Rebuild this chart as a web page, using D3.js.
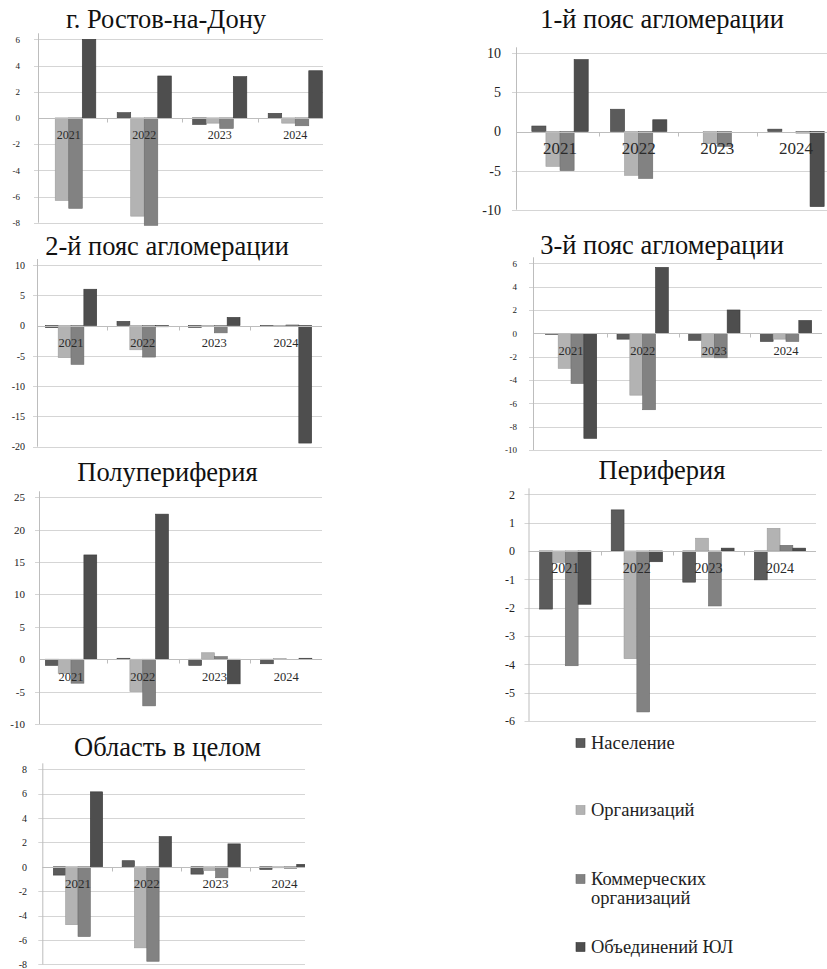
<!DOCTYPE html>
<html>
<head>
<meta charset="utf-8">
<script src="https://cdn.jsdelivr.net/npm/d3@7/dist/d3.min.js"></script>
<style>
  html, body { margin: 0; padding: 0; background: #fff; }
  svg, svg text { font-family: "Liberation Serif", "Times New Roman", Times, serif !important; }
</style>
</head>
<body>
<svg id="chart" width="827" height="969"></svg>
<script>
// ---- data ----
const years = ["2021", "2022", "2023", "2024"];
const seriesNames = ["Население", "Организаций", "Коммерческих организаций", "Объединений ЮЛ"];

// each panel: [Население, Организаций, Коммерческих, Объединений ЮЛ] by year
const rostovValues = [
  [0, 0.4, -0.5, 0.35],
  [-6.3, -7.5, -0.4, -0.4],
  [-6.9, -8.2, -0.8, -0.6],
  [6.0, 3.2, 3.15, 3.6]
];
const belt1Values = [
  [0.7, 2.85, 0, 0.3],
  [-4.45, -5.6, -1.55, 0],
  [-5.0, -6.0, -1.9, -0.2],
  [9.2, 1.5, 0, -9.6]
];
const belt2Values = [
  [-0.35, 0.7, -0.3, -0.1],
  [-5.3, -4.0, -0.1, -0.05],
  [-6.4, -5.2, -1.2, 0.1],
  [6.0, -0.2, 1.35, -19.4]
];
const belt3Values = [
  [-0.05, -0.5, -0.6, -0.7],
  [-3.0, -5.3, -2.05, -0.5],
  [-4.3, -6.55, -2.1, -0.7],
  [-9.0, 5.65, 2.0, 1.1]
];
const semiValues = [
  [-0.95, 0.15, -0.95, -0.7],
  [-2.2, -5.0, 1.0, 0.1],
  [-3.7, -7.2, 0.4, 0],
  [16.1, 22.4, -3.8, 0.15]
];
const periValues = [
  [-2.05, 1.45, -1.1, -1.02],
  [-0.4, -3.8, 0.45, 0.8],
  [-4.05, -5.68, -1.94, 0.2],
  [-1.88, -0.38, 0.1, 0.1]
];
const regionValues = [
  [-0.68, 0.5, -0.6, -0.22],
  [-4.75, -6.65, -0.3, -0.05],
  [-5.72, -7.75, -0.9, -0.12],
  [6.15, 2.48, 1.88, 0.2]
];

const rostovTicks = [6, 4, 2, 0, -2, -4, -6, -8];
const belt1Ticks = [10, 5, 0, -5, -10];
const belt2Ticks = [10, 5, 0, -5, -10, -15, -20];
const belt3Ticks = [6, 4, 2, 0, -2, -4, -6, -8, -10];
const semiTicks = [25, 20, 15, 10, 5, 0, -5, -10];
const periTicks = [2, 1, 0, -1, -2, -3, -4, -5, -6];
const regionTicks = [8, 6, 4, 2, 0, -2, -4, -6, -8];

// ---- styles ----
const serif = "'Liberation Serif', 'Times New Roman', Times, serif";
const fills = ["#5b5b5b", "#b3b3b3", "#828282", "#4e4e4e"];
const strokes = ["#3f3f3f", "#9c9c9c", "#6b6b6b", "#383838"];
const gridColor = "#d5d5d5";
const axisColor = "#bdbdbd";

// ---- panel layout ----
const panels = [
  { title: "г. Ростов-на-Дону", values: rostovValues, ticks: rostovTicks,
    tx: 166, ty: 28, x0: 31, x1: 333, axisX: 38, clipR: 323,
    yTop: 39.3, yBot: 222.7, labelR: 20, tickFont: 9, catFont: 12 },
  { title: "1-й пояс агломерации", values: belt1Values, ticks: belt1Ticks,
    tx: 662, ty: 28, x0: 520.7, x1: 835.3, axisX: 516, clipR: 827,
    yTop: 53.3, yBot: 209.7, labelR: 501, tickFont: 14, catFont: 17 },
  { title: "2-й пояс агломерации", values: belt2Values, ticks: belt2Ticks,
    tx: 167, ty: 255, x0: 35.2, x1: 321.8, axisX: 37, clipR: 322,
    yTop: 265, yBot: 446.7, labelR: 25, tickFont: 10, catFont: 12.5 },
  { title: "3-й пояс агломерации", values: belt3Values, ticks: belt3Ticks,
    tx: 662, ty: 254, x0: 535.2, x1: 821.8, axisX: 533, clipR: 822,
    yTop: 263.3, yBot: 450, labelR: 517, tickFont: 9, catFont: 12.5 },
  { title: "Полупериферия", values: semiValues, ticks: semiTicks,
    tx: 167.5, ty: 481, x0: 35.2, x1: 322, axisX: 39, clipR: 322,
    yTop: 497.3, yBot: 724, labelR: 25, tickFont: 11, catFont: 12.5 },
  { title: "Периферия", values: periValues, ticks: periTicks,
    tx: 662, ty: 479, x0: 529.5, x1: 815.8, axisX: 528.5, clipR: 816,
    yTop: 494.3, yBot: 721, labelR: 515, tickFont: 12, catFont: 14 },
  { title: "Область в целом", values: regionValues, ticks: regionTicks,
    tx: 167.5, ty: 756, x0: 43.6, x1: 318.8, axisX: 42.3, clipR: 305,
    yTop: 769.3, yBot: 964.3, labelR: 27, tickFont: 10, catFont: 13 }
];

const svg = d3.select("#chart");
svg.append("rect").attr("width", 827).attr("height", 969).attr("fill", "#fff");
const defs = svg.append("defs");

panels.forEach((p, pi) => {
  const g = svg.append("g").attr("font-family", serif);
  const max = d3.max(p.ticks), min = d3.min(p.ticks);
  const y = d3.scaleLinear().domain([max, min]).range([p.yTop, p.yBot]);
  const x = d3.scaleBand().domain(years).range([p.x0, p.x1]).paddingInner(0).paddingOuter(0);
  const xs = d3.scaleBand().domain(d3.range(seriesNames.length))
    .range([0, x.bandwidth()]).paddingInner(0).paddingOuter(0.79);

  const clipId = "clip" + pi;
  defs.append("clipPath").attr("id", clipId)
    .append("rect").attr("x", 0).attr("y", 0).attr("width", p.clipR).attr("height", 969);
  const body = g.append("g").attr("clip-path", `url(#${clipId})`);

  // title
  g.append("text").attr("x", p.tx).attr("y", p.ty).attr("text-anchor", "middle")
    .attr("font-family", serif).attr("font-size", 26.5).attr("fill", "#111").text(p.title);

  // horizontal gridlines
  body.selectAll("line.grid").data(p.ticks.filter(t => t !== 0)).join("line")
    .attr("class", "grid")
    .attr("x1", p.axisX - 4).attr("x2", p.clipR)
    .attr("y1", d => Math.round(y(d)) + 0.5).attr("y2", d => Math.round(y(d)) + 0.5)
    .attr("stroke", gridColor).attr("stroke-width", 1);

  // y axis labels
  const yAxis = d3.axisLeft(y).tickValues(p.ticks).tickSize(0).tickPadding(0)
    .tickFormat(d => d < 0 ? "-" + Math.abs(d) : String(d));
  const ya = g.append("g").attr("transform", `translate(${p.labelR},0)`).call(yAxis)
    .attr("font-family", serif);
  ya.select(".domain").remove();
  ya.selectAll("text").attr("font-size", p.tickFont)
    .attr("font-family", serif).attr("fill", "#222");

  // vertical axis line
  g.append("line").attr("x1", p.axisX + 0.5).attr("x2", p.axisX + 0.5)
    .attr("y1", p.yTop - 6).attr("y2", p.yBot)
    .attr("stroke", axisColor).attr("stroke-width", 1);

  // bars
  seriesNames.forEach((s, si) => {
    body.selectAll(null).data(years.map((yr, i) => ({ yr, v: p.values[si][i] }))).join("rect")
      .attr("x", d => x(d.yr) + xs(si))
      .attr("width", xs.bandwidth())
      .attr("y", d => Math.min(y(d.v), y(0)))
      .attr("height", d => Math.max(Math.abs(y(d.v) - y(0)), d.v === 0 ? 0 : 1))
      .attr("fill", fills[si])
      .attr("stroke", strokes[si]).attr("stroke-width", 0.6);
  });

  // zero (category) axis with tick marks between groups
  const y0 = Math.round(y(0)) + 0.5;
  body.append("line").attr("x1", p.axisX).attr("x2", p.clipR)
    .attr("y1", y0).attr("y2", y0).attr("stroke", axisColor).attr("stroke-width", 1);
  body.selectAll("line.ctick").data(years.slice(1)).join("line")
    .attr("class", "ctick")
    .attr("x1", d => Math.round(x(d)) + 0.5).attr("x2", d => Math.round(x(d)) + 0.5)
    .attr("y1", y0).attr("y2", y0 + 4)
    .attr("stroke", axisColor).attr("stroke-width", 1);

  // category labels just below the zero line
  body.selectAll("text.cat").data(years).join("text")
    .attr("class", "cat")
    .attr("x", d => x(d) + x.bandwidth() / 2)
    .attr("y", y(0) + 17)
    .attr("dy", "0.35em")
    .attr("text-anchor", "middle")
    .attr("font-family", serif)
    .attr("font-size", p.catFont)
    .attr("fill", "#2a2a2a")
    .text(d => d);
});

// ---- legend ----
const legendItems = [
  { lines: ["Население"], y: 743 },
  { lines: ["Организаций"], y: 810 },
  { lines: ["Коммерческих", "организаций"], y: 879 },
  { lines: ["Объединений ЮЛ"], y: 947 }
];
const lg = svg.append("g").attr("font-family", serif);
legendItems.forEach((it, i) => {
  lg.append("rect").attr("x", 576).attr("y", it.y - 4.5).attr("width", 9).attr("height", 9)
    .attr("fill", fills[i]).attr("stroke", strokes[i]).attr("stroke-width", 0.6);
  it.lines.forEach((ln, j) => {
    lg.append("text").attr("x", 591).attr("y", it.y + j * 19).attr("dy", "0.35em")
      .attr("font-family", serif).attr("font-size", 18.5).attr("fill", "#222").text(ln);
  });
});
</script>
</body>
</html>
